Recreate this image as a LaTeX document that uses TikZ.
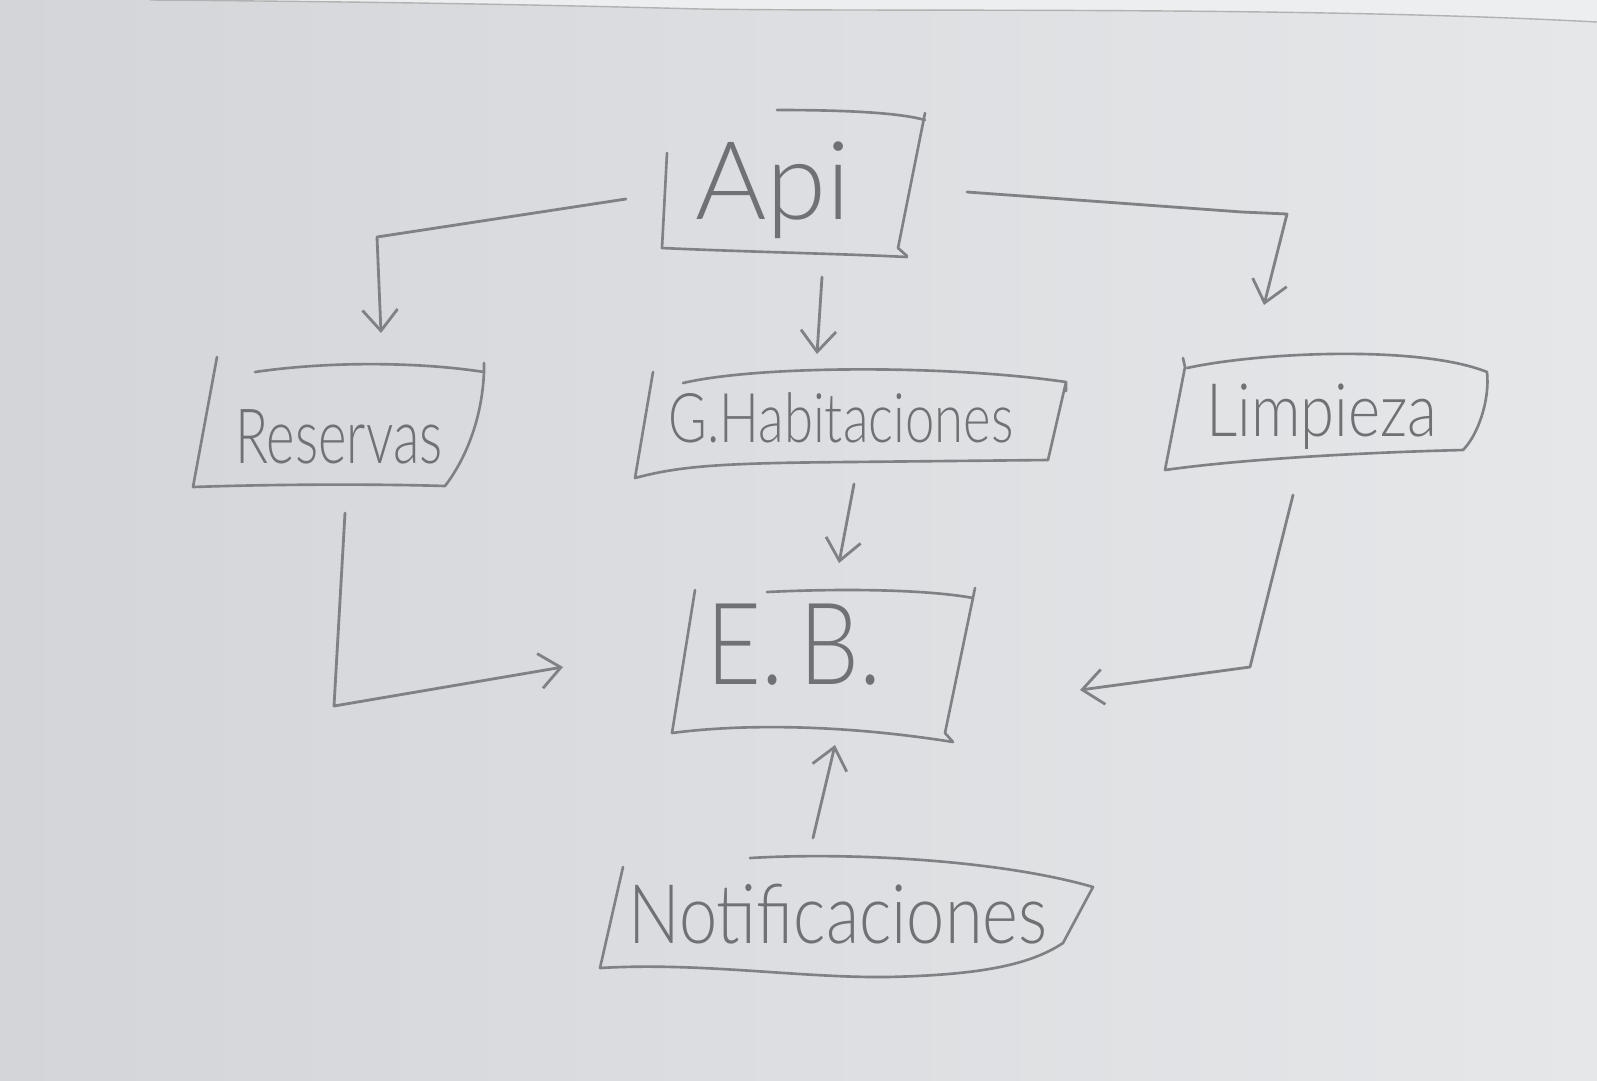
\documentclass[tikz,border=0pt]{standalone}
\usepackage{fontspec}
\setmainfont{Lato}[UprightFont=* Light]
\usetikzlibrary{arrows.meta,calc}
\definecolor{paperL}{RGB}{211,213,217}
\definecolor{paperR}{RGB}{230,231,233}
\definecolor{ink}{RGB}{128,129,133}
\definecolor{txt}{RGB}{112,113,117}
\begin{document}
\begin{tikzpicture}[x=0.02cm,y=-0.02cm,
  box/.style={draw=ink,line width=1.5pt,line cap=round,line join=round},
  arr/.style={draw=ink,line width=1.6pt,line cap=round,line join=round,
              -{Straight Barb[length=12pt,width=20pt]}},
  lbl/.style={text=txt,inner sep=0pt}]
% paper
\useasboundingbox (0,0) rectangle (1597,1080);
\fill[left color=paperL,right color=paperR] (0,0) rectangle (1597,1080);
\fill[paperR!70!white] (150,0) .. controls (400,2) and (550,5) .. (700,9)
  .. controls (900,12) and (1300,6) .. (1597,22) -- (1597,0) -- cycle;
\draw[black!30,line width=0.8pt] (150,0) .. controls (400,2) and (550,5) .. (700,9)
  .. controls (900,12) and (1300,6) .. (1597,22);

% labels
\node[lbl,font=\fontsize{62}{62}\selectfont] (api) at (773,190) {Api};
\node[lbl,font=\fontsize{31}{31}\selectfont] (res) at (339,437) {\scalebox{1}[1.4]{Reservas}};
\node[lbl,font=\fontsize{30}{30}\selectfont] (hab) at (841,418) {\scalebox{1}[1.3]{G.Habitaciones}};
\node[lbl,font=\fontsize{35}{35}\selectfont] (lim) at (1322,417) {\scalebox{1}[1.2]{Limpieza}};
\node[lbl,font=\fontsize{54}{54}\selectfont] (eb) at (794,645) {\scalebox{1}[1.2]{E.\,B.}};
\node[lbl,font=\fontsize{39}{39}\selectfont] (noti) at (838,914) {\scalebox{1}[1.2]{Notificaciones}};

% boxes
% Api
\draw[box] (667,153) -- (662,248) .. controls (750,252) and (850,254) .. (907,257);
\draw[box] (777,110) .. controls (850,110) and (900,113) .. (925,120);
\draw[box] (925,113) -- (898,248) -- (907,256);
% Reservas
\draw[box] (217,357) -- (193,487) .. controls (280,484) and (380,484) .. (445,486)
  .. controls (465,460) and (482,420) .. (484,372) -- (484,363);
\draw[box] (255,372) .. controls (330,361) and (420,362) .. (484,372);
% G.Habitaciones
\draw[box] (653,372) -- (635,478) .. controls (680,466) and (720,463) .. (850,462)
  -- (1048,460) -- (1066,382) -- (1066,391);
\draw[box] (683,383) .. controls (760,365) and (950,365) .. (1066,382);
% Limpieza
\draw[box] (1183,358) -- (1185,367) -- (1165,470) .. controls (1250,458) and (1380,452) .. (1463,450)
  .. controls (1478,435) and (1490,400) .. (1487,372);
\draw[box] (1187,368) .. controls (1260,352) and (1420,345) .. (1487,372);
% E.B.
\draw[box] (695,590) -- (672,733) .. controls (740,724) and (840,724) .. (953,742);
\draw[box] (767,592) .. controls (850,588) and (930,590) .. (973,598);
\draw[box] (975,588) -- (945,733) -- (953,742);
% Notificaciones
\draw[box] (623,867) -- (600,968) .. controls (700,962) and (800,978) .. (887,977)
  .. controls (980,975) and (1030,965) .. (1063,943) -- (1093,887);
\draw[box] (750,858) .. controls (850,852) and (1000,860) .. (1093,887);

% connectors
\draw[arr] ($(api)+(-147,9)$) -- ($(res)+(38,-200)$) -- ($(res)+(42,-104)$);
\draw[arr] ($(api)+(49,87)$) -- ($(hab)+(-24,-64)$);
\draw[arr] ($(api)+(194,2)$) -- ($(lim)+(-80,-205)$) -- ($(lim)+(-35,-203)$) -- ($(lim)+(-58,-112)$);
\draw[arr] ($(hab)+(13,66)$) -- ($(eb)+(45,-82)$);
\draw[arr] ($(res)+(6,76)$) -- ($(res)+(-5,269)$) -- ($(eb)+(-231,22)$);
\draw[arr] ($(lim)+(-29,78)$) -- ($(lim)+(-72,250)$) -- ($(eb)+(286,45)$);
\draw[arr] ($(noti)+(-25,-76)$) -- ($(eb)+(41,100)$);
\end{tikzpicture}
\end{document}
